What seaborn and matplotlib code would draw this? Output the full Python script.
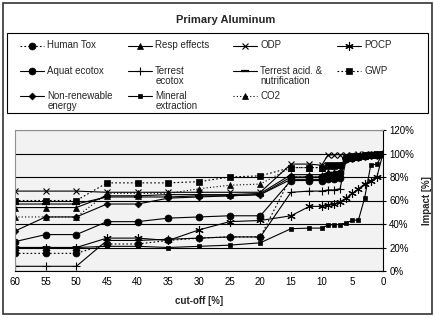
import matplotlib
matplotlib.use("Agg")
import matplotlib.pyplot as plt
import matplotlib.transforms as mtransforms
from matplotlib.patches import Rectangle
from matplotlib.ticker import FuncFormatter
import seaborn as sns

# cut-off levels (x axis, %)
cutoff = [60, 55, 50, 45, 40, 35, 30, 25, 20, 15, 12, 10, 9, 8, 7, 6, 5, 4, 3, 2, 1, 0]

# impact per indicator (%)
human_tox = [15, 15, 15, 23, 23, 26, 28, 29, 29, 80, 80, 80, 82, 82, 83, 95, 96, 97, 98, 98.5, 99, 100]
resp_effects = [54, 54, 54, 64, 64, 65, 65, 65, 66, 82, 82, 82, 84, 84, 85, 96, 97, 97, 98, 99, 99, 100]
odp = [68, 68, 68, 67, 67, 67, 67, 67, 67, 91, 91, 90, 98.5, 99, 99, 99, 99, 99.5, 99.5, 100, 100, 100]
pocp = [20, 20, 20, 28, 28, 26, 35, 42, 43, 47, 55, 55, 56, 57, 59, 62, 66, 70, 74, 77, 80, 100]
aquat_ecotox = [25, 31, 31, 42, 42, 45, 46, 47, 47, 77, 77, 77, 78, 78, 79, 95, 96, 97, 98, 98.5, 99, 100]
terrest_ecotox = [4, 4, 4, 26, 26, 27, 28, 29, 29, 67, 68, 68, 69, 69, 70, 95, 96, 97, 97.5, 98.5, 99, 100]
terrest_acid = [57, 57, 57, 63, 63, 63, 64, 64, 65, 80, 80, 80, 82, 83, 84, 96, 97, 97, 98, 99, 99, 100]
gwp = [60, 60, 60, 75, 75, 75, 76, 80, 81, 88, 88, 88, 90, 90, 90, 97, 98, 98, 98.5, 99, 99.5, 100]
non_renewable = [34, 46, 46, 57, 57, 62, 63, 64, 65, 78, 78, 78, 80, 80, 81, 96, 97, 97, 98, 99, 99, 100]
mineral = [20, 20, 20, 21, 21, 20, 21, 22, 24, 36, 36.5, 36.5, 39, 39.5, 39.5, 41, 43, 43.5, 62, 90, 91, 100]
co2 = [46, 46, 46, 66, 66, 66, 70, 73, 74, 88, 88, 88, 89, 89, 90, 97, 97, 98, 98, 99, 99, 100]

names = ["Human Tox", "Resp effects", "ODP", "POCP", "Aquat ecotox", "Terrest\necotox",
         "Terrest acid. &\nnutrification", "GWP", "Non-renewable\nenergy", "Mineral\nextraction", "CO2"]
values = [human_tox, resp_effects, odp, pocp, aquat_ecotox, terrest_ecotox,
          terrest_acid, gwp, non_renewable, mineral, co2]

# marker, marker size, line style, marker edge width
styles = {
    "Human Tox": ("o", 5, (0, (1.5, 2)), 0.5),
    "Resp effects": ("^", 5, "-", 0.5),
    "ODP": ("x", 5, "-", 0.8),
    "POCP": ((6, 2, 0), 6, "-", 0.8),
    "Aquat ecotox": ("o", 5, "-", 0.5),
    "Terrest\necotox": ("+", 6, "-", 0.8),
    "Terrest acid. &\nnutrification": ("_", 6, "-", 1.6),
    "GWP": ("s", 4.5, (0, (1.5, 2)), 0.5),
    "Non-renewable\nenergy": ("D", 3.5, "-", 0.5),
    "Mineral\nextraction": ("s", 3, "-", 0.5),
    "CO2": ("^", 4, (0, (1, 2)), 0.5),
}

sns.set_style("white")
plt.rcParams["font.family"] = ["Liberation Sans", "DejaVu Sans"]

W, H = 434, 318
fig = plt.figure(figsize=(W / 100, H / 100), dpi=100)
ax = fig.add_axes([15 / W, 1 - 271 / H, 368 / W, 141 / H])
ax.set_facecolor("#f2f2f2")

for name, vals in zip(names, values):
    m, ms, ls, mew = styles[name]
    sns.lineplot(x=cutoff, y=vals, ax=ax, color="black", marker=m, markersize=ms,
                 linestyle=ls, linewidth=0.8, markeredgecolor="black",
                 markerfacecolor="black", markeredgewidth=mew, label=name,
                 sort=False, errorbar=None)

ax.set_xlim(60, 0)
ax.set_xticks(range(60, -1, -5))
ax.set_ylim(0, 120)
ax.set_yticks(range(0, 121, 20))
ax.yaxis.set_major_formatter(FuncFormatter(lambda v, p: "{:.0f}%".format(v)))
ax.yaxis.tick_right()
ax.yaxis.set_label_position("right")
ax.grid(axis="y", color="black", linewidth=0.8)
ax.grid(axis="x", visible=False)
ax.set_axisbelow(True)
for s in ["left", "top"]:
    ax.spines[s].set_color("#909090")
    ax.spines[s].set_linewidth(0.8)
for s in ["right", "bottom"]:
    ax.spines[s].set_color("black")
    ax.spines[s].set_linewidth(0.8)
ax.tick_params(axis="both", direction="inout", length=5, width=0.8, labelsize=7, pad=2,
               colors="black")
ax.set_xlabel("cut-off [%]", fontsize=7, fontweight="bold", labelpad=6)
ax.set_ylabel("Impact [%]", fontsize=7, fontweight="bold", labelpad=6)

# legend: one legend per column so the columns sit where Excel put them
handles, labels = ax.get_legend_handles_labels()
ax.get_legend().remove()
columns = [[0, 4, 8], [1, 5, 9], [2, 6, 10], [3, 7]]
col_x = [20, 128, 233, 337]
for cx, idx in zip(col_x, columns):
    labs = [labels[i] if "\n" in labels[i] else labels[i] + "\n " for i in idx]
    lg = fig.legend([handles[i] for i in idx], labs, loc="upper left",
                    bbox_to_anchor=(cx / W, 1 - 35 / H), borderaxespad=0, borderpad=0,
                    frameon=False, fontsize=7, handlelength=2.5, handletextpad=0.3,
                    labelspacing=0.5)
    for t in lg.get_texts():
        t.set_linespacing(1.05)
        # put the first text line level with the handle
        t.set_transform(t.get_transform() + mtransforms.Affine2D().translate(0, -5.5))

fig.add_artist(Rectangle((7 / W, 1 - 113 / H), 421 / W, 80 / H, transform=fig.transFigure,
                         fill=False, edgecolor="black", linewidth=0.8))
fig.text(0.52, 1 - 20 / H, "Primary Aluminum", ha="center", va="center",
         fontsize=8, fontweight="bold")
fig.add_artist(Rectangle((3 / W, 1 - 314 / H), 429 / W, 311 / H,
                         transform=fig.transFigure, fill=False, edgecolor="#333333",
                         linewidth=1.2))

fig.savefig("out.png", dpi=100)
